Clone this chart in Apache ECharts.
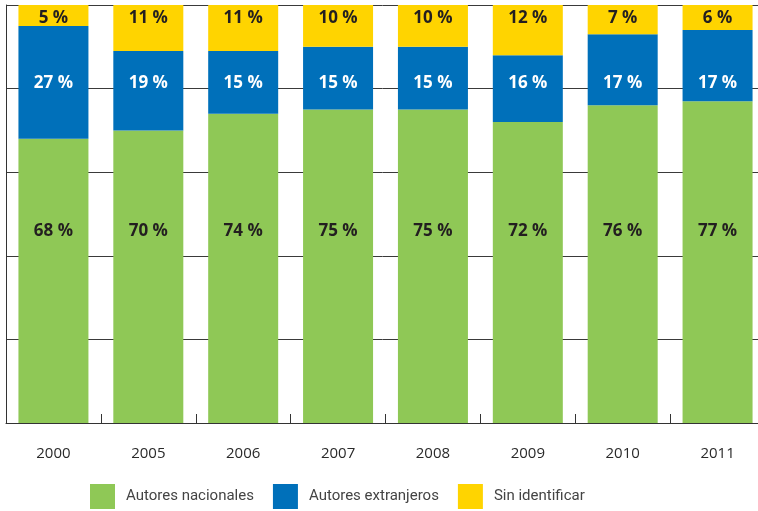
<!DOCTYPE html>
<html>
<head>
<meta charset="utf-8">
<script src="https://cdn.jsdelivr.net/npm/echarts@6/dist/echarts.min.js"></script>
<style>
  html, body { margin: 0; padding: 0; background: #fff; }
  #chart { width: 758px; height: 511px; }
</style>
</head>
<body>
<div id="chart"></div>
<script>
// Autores por origen, porcentaje por año

var years = ['2000', '2005', '2006', '2007', '2008', '2009', '2010', '2011'];
var nacionales = [68, 70, 74, 75, 75, 72, 76, 77];
var extranjeros = [27, 19, 15, 15, 15, 16, 17, 17];
var sinIdentificar = [5, 11, 11, 10, 10, 12, 7, 6];

// the labels sit on a common line across all bars, not in the middle of each segment
function labelItems(values, bases, labelAt) {
    return values.map(function (v, i) {
        var top = bases[i] + v;
        var frac = (top - labelAt) / v * 100;
        return { value: v, label: { position: ['50%', frac + '%'] } };
    });
}

var zeros = years.map(function () { return 0; });
var baseBlue = nacionales.slice();
var baseYellow = nacionales.map(function (v, i) { return v + extranjeros[i]; });

var labelBase = {
    show: true,
    align: 'center',
    verticalAlign: 'middle',
    fontFamily: 'Open Sans',
    fontWeight: 'bold',
    fontSize: 17,
    formatter: '{c} %'
};

var chart = echarts.init(document.getElementById('chart'));
chart.setOption({
    animation: false,
    grid: { left: 6, width: 759, top: 5, bottom: 88, outerBoundsMode: 'none', containLabel: false },
    legend: {
        left: 90,
        top: 484,
        padding: 0,
        itemWidth: 25,
        itemHeight: 25,
        itemGap: 19,
        icon: 'rect',
        textStyle: {
            fontFamily: 'Roboto',
            fontWeight: 'normal',
            fontSize: 15,
            color: '#444',
            padding: [0, 0, 0, 6]
        },
        data: ['Autores nacionales', 'Autores extranjeros', 'Sin identificar']
    },
    xAxis: {
        type: 'category',
        data: years,
        axisLine: { show: true, lineStyle: { color: '#333', width: 1 } },
        axisTick: { show: true, inside: true, length: 9, lineStyle: { color: '#333' } },
        axisLabel: {
            margin: 23,
            fontFamily: 'Open Sans',
            fontSize: 15,
            color: '#2a2a2a'
        }
    },
    yAxis: {
        type: 'value',
        min: 0,
        max: 100,
        interval: 20,
        axisLine: { show: true, lineStyle: { color: '#333', width: 1 } },
        axisTick: { show: false },
        axisLabel: { show: false },
        splitLine: { show: true, lineStyle: { color: '#3a3a3a', width: 1 } }
    },
    series: [
        {
            name: 'Autores nacionales',
            type: 'bar',
            stack: 'total',
            barWidth: 70,
            itemStyle: { color: '#8fc856' },
            label: Object.assign({}, labelBase, { color: '#231f20' }),
            data: labelItems(nacionales, zeros, 45.9)
        },
        {
            name: 'Autores extranjeros',
            type: 'bar',
            stack: 'total',
            barWidth: 70,
            itemStyle: { color: '#0070ba' },
            label: Object.assign({}, labelBase, { color: '#ffffff' }),
            data: labelItems(extranjeros, baseBlue, 81.3)
        },
        {
            name: 'Sin identificar',
            type: 'bar',
            stack: 'total',
            barWidth: 70,
            itemStyle: { color: '#ffd400' },
            label: Object.assign({}, labelBase, { color: '#231f20' }),
            data: labelItems(sinIdentificar, baseYellow, 96.8)
        }
    ]
});
</script>
</body>
</html>
